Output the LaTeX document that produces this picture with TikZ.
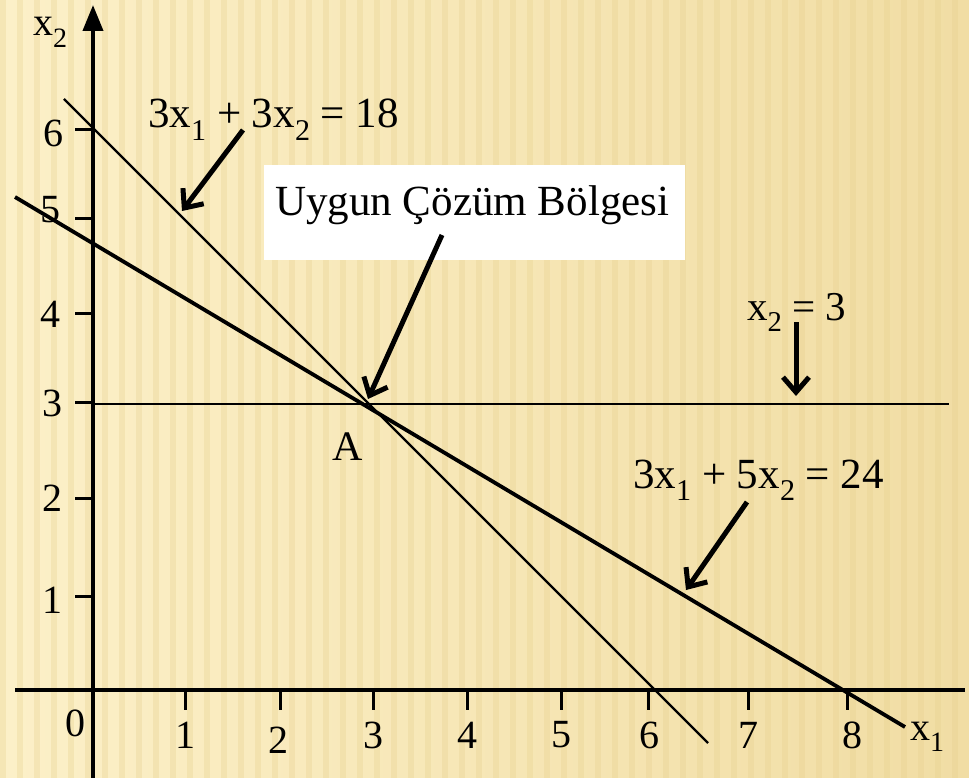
\documentclass[tikz,border=0pt]{standalone}
\usepackage{fontspec}
\setmainfont{Liberation Serif}
\usetikzlibrary{arrows.meta}
\definecolor{bgL}{HTML}{FCF0C8}
\definecolor{bgR}{HTML}{F1DDA4}
\definecolor{stripe}{HTML}{E6CF8C}
\newcommand{\lowsub}[1]{\raisebox{-0.28em}{\scalebox{0.7}{#1}}}
\tikzset{
  axisline/.style={line width=4pt, black},
  tickline/.style={line width=3pt, black},
  thinline/.style={line width=2.4pt, black},
  midline/.style={line width=2.8pt, black},
  thickline/.style={line width=3.8pt, black},
  callout/.style={line width=5pt, black, -{Straight Barb[length=15pt,width=26pt,line width=5pt]}},
  ticklab/.style={inner sep=0pt, font=\fontsize{40}{40}\selectfont},
  eqlab/.style={inner sep=0pt, anchor=base west, font=\fontsize{43}{43}\selectfont},
}
\begin{document}
\begin{tikzpicture}[x=1pt,y=-1pt]
\useasboundingbox (0,0) rectangle (969,778);
% background
\shade[left color=bgL, right color=bgR] (0,0) rectangle (969,778);
\foreach \s in {0,17,...,969} {
  \fill[stripe, opacity=0.3] (\s,0) rectangle (\s+6,778);
}
% named points
\coordinate (O) at (93,690);
\coordinate (ytop) at (93,5);
\coordinate (ybot) at (93,780);
\coordinate (xl) at (15,690);
\coordinate (xr) at (965,690);
\coordinate (Lq1) at (64,99);
\coordinate (Lq2) at (708,743);
\coordinate (Lb1) at (15,197);
\coordinate (Lb2) at (905,727);
\coordinate (Lh1) at (93,404);
\coordinate (Lh2) at (949,404);
% axes
\draw[axisline] (xl) -- (xr);
\draw[axisline, -{Triangle[length=26pt,width=20pt]}] (ybot) -- (ytop);
% ticks
\foreach \y in {130,219,313,402,498,596} { \draw[tickline] (75,\y) -- (93,\y); }
\foreach \x in {185,280,373,467,561,648,748,847} { \draw[tickline] (\x,690) -- (\x,710); }
% tick labels
\node[ticklab] (y6) at (53,133) {6};
\node[ticklab] (y5) at (50,210) {5};
\node[ticklab] (y4) at (50,314) {4};
\node[ticklab] (y3) at (52,403) {3};
\node[ticklab] (y2) at (52,498) {2};
\node[ticklab] (y1) at (52,600) {1};
\node[ticklab] (x0) at (75,723) {0};
\node[ticklab] (x1) at (185,735) {1};
\node[ticklab] (x2) at (278,740) {2};
\node[ticklab] (x3) at (373,735) {3};
\node[ticklab] (x4) at (467,735) {4};
\node[ticklab] (x5) at (561,735) {5};
\node[ticklab] (x6) at (649,735) {6};
\node[ticklab] (x7) at (748,735) {7};
\node[ticklab] (x8) at (852,735) {8};
\node[ticklab, anchor=base west] (xlab) at (910,740) {x\lowsub{1}};
\node[ticklab, anchor=base west] (ylab) at (33,36) {x\lowsub{2}};
% constraint lines
\draw[thinline] (Lq1) -- (Lq2);
\draw[thickline] (Lb1) -- (Lb2);
\draw[midline] (Lh1) -- (Lh2);
% labels
\node[eqlab] (eq1) at (148,128) {3x\lowsub{1} + 3x\lowsub{2} = 18};
\node[fill=white, inner sep=0pt, minimum width=421pt, minimum height=95pt, anchor=north west] (box) at (264,165) {};
\node[eqlab] (uyg) at (275,215) {Uygun Çözüm Bölgesi};
\node[eqlab, font=\fontsize{41}{41}\selectfont] (eq3) at (747,320) {x\lowsub{2} = 3};
\node[eqlab] (eq2) at (633,488) {3x\lowsub{1} + 5x\lowsub{2} = 24};
\node[inner sep=0pt, anchor=base, font=\fontsize{42}{42}\selectfont] (A) at (348,460) {A};
% callout arrows
\coordinate (a1s) at (243,130); \coordinate (a1e) at (182,211);
\coordinate (a2s) at (442,235); \coordinate (a2e) at (368,399);
\coordinate (a3s) at (796,322); \coordinate (a3e) at (796,396);
\coordinate (a4s) at (747,502); \coordinate (a4e) at (686,590);
\draw[callout] (a1s) -- (a1e);
\draw[callout] (a2s) -- (a2e);
\draw[callout] (a3s) -- (a3e);
\draw[callout] (a4s) -- (a4e);
\end{tikzpicture}
\end{document}
